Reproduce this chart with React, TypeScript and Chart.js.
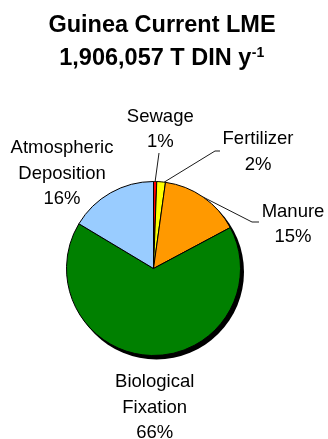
import React, { useEffect, useRef } from "react";
import { Chart, registerables } from "chart.js";

Chart.register(...registerables);

// Dissolved inorganic nitrogen load by source (% of total)
const categories = ["Sewage", "Fertilizer", "Manure", "Biological Fixation", "Atmospheric Deposition"];
const shares = [0.6, 1.6, 15.0, 66.4, 16.4];
const sliceColors = ["#FF0000", "#FFFF00", "#FF9900", "#008000", "#99CCFF"];

const titleText = "Guinea Current LME";
const totalLoad = "1,906,057";
const unitText = "T DIN y";
const unitExponent = "-1";

const WIDTH = 328;
const HEIGHT = 439;
const PIE_RADIUS = 87;
const FONT = "Liberation Sans, Arial, Helvetica, sans-serif";
const LABEL_SIZE = 18.5;
const LABEL_LINE = 25.3;

// Label placement relative to the pie centre: text centre x, first baseline y,
// optional leader line (anchor fraction along the slice, elbow, end).
type LabelLayout = {
  tx: number;
  ty: number;
  leader?: { at: number; elbow: [number, number]; end?: [number, number] };
};
const labelLayout: LabelLayout[] = [
  { tx: 6.8, ty: -146.8, leader: { at: 0.5, elbow: [5.5, -115.5] } },
  { tx: 104.5, ty: -124.2, leader: { at: 0.85, elbow: [61.5, -117.5], end: [66.5, -117.5] } },
  { tx: 139.5, ty: -51.8, leader: { at: 0.5, elbow: [98.5, -46.5], end: [105.5, -46.5] } },
  { tx: 1.2, ty: 118.8 },
  { tx: -91.5, ty: -115.2 },
];

const shadowPlugin = {
  id: "pieShadow",
  beforeDatasetsDraw(chart: any) {
    const arc = chart.getDatasetMeta(0).data[0];
    if (!arc) return;
    const ctx = chart.ctx;
    ctx.save();
    ctx.fillStyle = "#000";
    ctx.beginPath();
    ctx.arc(arc.x + 3, arc.y + 3.5, arc.outerRadius + 0.5, 0, Math.PI * 2);
    ctx.fill();
    ctx.restore();
  },
};

const labelPlugin = {
  id: "sliceLabels",
  afterDatasetsDraw(chart: any) {
    const meta = chart.getDatasetMeta(0);
    const values: number[] = chart.data.datasets[0].data;
    const total = values.reduce((a, b) => a + b, 0);
    const ctx = chart.ctx;
    ctx.save();
    meta.data.forEach((arc: any, i: number) => {
      const layout = labelLayout[i];
      const cx = arc.x;
      const cy = arc.y;
      if (layout.leader) {
        const { at, elbow, end } = layout.leader;
        const ang = arc.startAngle + (arc.endAngle - arc.startAngle) * at;
        const r = arc.outerRadius;
        ctx.strokeStyle = "#1a1a1a";
        ctx.lineWidth = 1;
        ctx.beginPath();
        ctx.moveTo(cx + r * Math.cos(ang), cy + r * Math.sin(ang));
        ctx.lineTo(cx + elbow[0], cy + elbow[1]);
        if (end) ctx.lineTo(cx + end[0], cy + end[1]);
        ctx.stroke();
      }
      const pct = Math.round((values[i] / total) * 100) + "%";
      const lines = [...categories[i].split(" "), pct];
      ctx.fillStyle = "#000";
      ctx.font = `${LABEL_SIZE}px ${FONT}`;
      ctx.textAlign = "center";
      ctx.textBaseline = "alphabetic";
      lines.forEach((line, k) => {
        ctx.fillText(line, cx + layout.tx, cy + layout.ty + k * LABEL_LINE);
      });
    });
    ctx.restore();
  },
};

const titlePlugin = {
  id: "twoLineTitle",
  afterDraw(chart: any) {
    const ctx = chart.ctx;
    ctx.save();
    ctx.fillStyle = "#000";
    ctx.textBaseline = "alphabetic";
    ctx.font = `bold 23.5px ${FONT}`;
    ctx.textAlign = "center";
    ctx.fillText(titleText, 162, 31.7);

    const main = `${totalLoad} ${unitText}`;
    ctx.textAlign = "left";
    const mainW = ctx.measureText(main).width;
    ctx.font = `bold 14px ${FONT}`;
    const expW = ctx.measureText(unitExponent).width;
    const x0 = 161.5 - (mainW + expW) / 2;
    ctx.font = `bold 23.5px ${FONT}`;
    ctx.fillText(main, x0, 65);
    ctx.font = `bold 14px ${FONT}`;
    ctx.fillText(unitExponent, x0 + mainW + 0.5, 56.7);
    ctx.restore();
  },
};

export default function App() {
  const canvasRef = useRef<HTMLCanvasElement | null>(null);

  useEffect(() => {
    const canvas = canvasRef.current;
    if (!canvas) return;
    const chart = new Chart(canvas, {
      type: "pie",
      data: {
        labels: categories,
        datasets: [
          {
            data: shares,
            backgroundColor: sliceColors,
            borderColor: "#000",
            borderWidth: 1,
            radius: PIE_RADIUS,
          } as any,
        ],
      },
      options: {
        responsive: false,
        animation: false,
        events: [],
        layout: { padding: { left: 66.5, right: 87.5, top: 181.5, bottom: 83.5 } },
        plugins: {
          legend: { display: false },
          tooltip: { enabled: false },
          title: { display: false },
        },
      },
      plugins: [shadowPlugin, labelPlugin, titlePlugin],
    });
    return () => chart.destroy();
  }, []);

  return (
    <div style={{ position: "fixed", left: 0, top: 0, width: WIDTH, height: HEIGHT, background: "#fff" }}>
      <canvas ref={canvasRef} width={WIDTH} height={HEIGHT} style={{ display: "block" }} />
    </div>
  );
}
